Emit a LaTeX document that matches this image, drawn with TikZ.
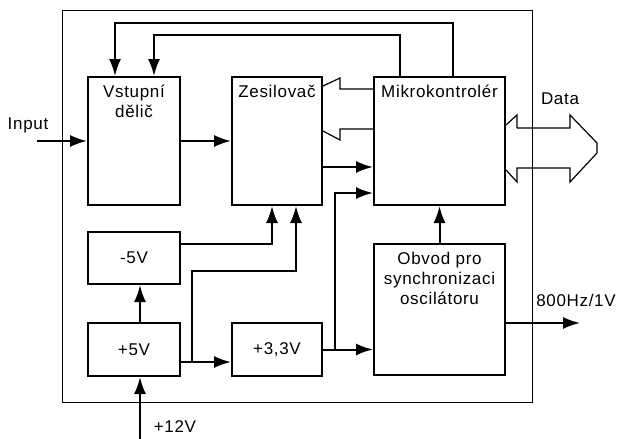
\documentclass[tikz,border=0pt]{standalone}
\usepackage{fontspec}
\setmainfont{Liberation Sans}[LetterSpace=4]
\usetikzlibrary{arrows.meta,positioning}

\begin{document}
\begin{tikzpicture}[
    x=1pt, y=-1pt,
    >={Latex[length=17pt,width=12pt]},
    font=\fontsize{17}{20}\selectfont,
    block/.style={draw, line width=2pt, inner sep=0pt},
    head/.style={anchor=north, align=center, inner sep=0pt, yshift=-9pt},
    wire/.style={line width=2pt},
    hollow/.style={line width=1.2pt}
]
    \useasboundingbox (0,0) rectangle (619,439);

    % Outer frame
    \draw[line width=1pt] (62,10) rectangle (532,402);

    % Blocks
    \node[block, minimum width=92pt, minimum height=128pt,
          label={[head]north:Vstupní\\dělič}] (vd) at (134,141) {};
    \node[block, minimum width=90pt, minimum height=128pt,
          label={[head]north:Zesilovač}] (zes) at (277,141) {};
    \node[block, minimum width=131pt, minimum height=128pt,
          label={[head]north:Mikrokontrolér}] (mk) at (439.5,141) {};
    \node[block, minimum width=92pt, minimum height=52pt] (m5) at (134,258) {-5V};
    \node[block, minimum width=92pt, minimum height=53pt] (p5) at (134,349.5) {+5V};
    \node[block, minimum width=90pt, minimum height=53pt] (p33) at (277,349.5) {+3,3V};
    \node[block, minimum width=131pt, minimum height=131pt,
          label={[head]north:Obvod pro\\synchronizaci\\oscilátoru}] (obv) at (439.5,309.5) {};

    % Outer labels
    \node (lin) at (28,125) {Input};
    \node (ldata) at (560,99) {Data};
    \node (lout) at (576,300) {800Hz/1V};
    \node (lsup) at (175,427) {+12V};

    % Free ends
    \coordinate (inp) at (37,141);
    \coordinate (fout) at (580,323);
    \coordinate (vin) at (140,439);

    % Signal path
    \draw[wire,->] (inp) -- (vd.west);
    \draw[wire,->] (vd.east) -- (zes.west);
    \draw[wire,->] (zes.east |- 0,167) -- (mk.west |- 0,167);

    % Feedback from the microcontroller to the divider
    \draw[wire,->] ([xshift=13.5pt]mk.north) -- ++(0,-53) -| ([xshift=-19pt]vd.north);
    \draw[wire,->] ([xshift=-39.5pt]mk.north) -- ++(0,-41) -| ([xshift=20pt]vd.north);

    % Bus to the amplifier
    \draw[hollow] (mk.west |- 0,89) -- (340,89) -- (340,78) -- (zes.east |- 0,86);
    \draw[hollow] (mk.west |- 0,129) -- (340,129) -- (340,140) -- (zes.east |- 0,131);

    % Data bus
    \draw[hollow] (517,128) -- (570,128) -- (570,115) -- (597,143) -- (597,153) -- (570,182)
        -- (570,168) -- (517,168) -- (517,182) -- (mk.east |- 0,170);
    \draw[hollow] (517,128) -- (517,115) -- (mk.east |- 0,125);

    % Supplies
    \draw[wire,->] (vin) -- ([xshift=6pt]p5.south);
    \draw[wire,->] ([xshift=6pt]p5.north) -- ([xshift=6pt]m5.south);
    \draw[wire,->] (m5.east |- 0,244) -| ([xshift=-5pt]zes.south);
    \draw[wire,->] (p5.east |- 0,362) -- (p33.west |- 0,362);
    \coordinate (j1) at (192,362);
    \draw[wire,->] (j1) -- (j1 |- 0,271) -| ([xshift=19pt]zes.south);
    \draw[wire,->] (p33.east) -- (obv.west |- p33.east);
    \coordinate (j2) at (335,349.5);
    \draw[wire,->] (j2) |- (mk.west |- 0,193);

    % Synchronisation
    \draw[wire,->] (obv.north) -- (mk.south);
    \draw[wire,->] (obv.east |- fout) -- (fout);

\end{tikzpicture}
\end{document}
